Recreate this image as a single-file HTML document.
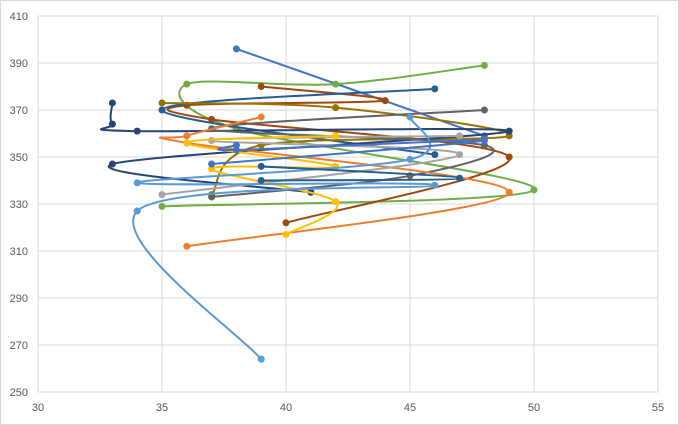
<!DOCTYPE html>
<html><head><meta charset="utf-8"><style>
body{margin:0;background:#fff;}
svg{display:block;font-family:"Liberation Sans",sans-serif;}
</style></head><body>
<svg id="c" width="679" height="425" viewBox="0 0 679 425">
<rect x="0.5" y="0.5" width="678" height="424" fill="#fff" stroke="#d9d9d9"/>
<g id="grid" stroke="#d9d9d9" stroke-width="1"></g>
<g id="lab" font-size="11" fill="#595959"></g>
<g id="ser" fill="none" stroke-width="2"></g>
</svg>
<script>
const X=x=>38+(x-30)*24.8, Y=y=>16+(410-y)*2.35;
const ns="http://www.w3.org/2000/svg";
function el(p,t,a,txt){const e=document.createElementNS(ns,t);for(const k in a)e.setAttribute(k,a[k]);if(txt!=null)e.textContent=txt;document.getElementById(p).appendChild(e);return e;}
for(let y=250;y<=410;y+=20){el("grid","line",{x1:38,x2:658,y1:Y(y),y2:Y(y)});el("lab","text",{x:28,y:Y(y)+4,"text-anchor":"end"},y);}
for(let x=30;x<=55;x+=5){el("grid","line",{x1:X(x),x2:X(x),y1:16,y2:392});el("lab","text",{x:X(x),y:411,"text-anchor":"middle"},x);}
const S=[
["#4472C4",[[38,396],[48,359]]],
["#70AD47",[[48,389],[42,381],[36,381],[38,362],[50,336],[35,329]]],
["#9E480E",[[39,380],[44,374],[36,372],[37,366],[49,350],[40,322]]],
["#255E91",[[46,379],[35,370],[46,351]]],
["#997300",[[35,373],[42,371],[49,359],[39,355],[37,334]]],
["#264478",[[33,373],[33,364],[34,361],[49,361],[33,347],[41,335]]],
["#636363",[[48,370],[37,362],[48,355],[45,342],[37,333]]],
["#ED7D31",[[39,367],[36,359],[36,356],[49,335],[36,312]]],
["#A5A5A5",[[47,359],[37,357],[47,351],[35,334]]],
["#FFC000",[[42,359],[36,356],[42,346],[37,345],[42,331],[40,317]]],
["#5B9BD5",[[45,367],[45,349],[34,339],[46,338],[34,327],[39,264]]],
["#4472C4",[[38,355],[38,353],[48,357],[37,347]]],
["#255E91",[[39,346],[47,341],[39,340]]]
];
for(const [c,pts] of S){
 const P=pts.map(p=>[X(p[0]),Y(p[1])]);
 let d="M"+P[0];
 for(let i=0;i<P.length-1;i++){
  const p0=P[i-1]||P[i],p1=P[i],p2=P[i+1],p3=P[i+2]||P[i+1],t=1/6;
  d+=` C${p1[0]+(p2[0]-p0[0])*t},${p1[1]+(p2[1]-p0[1])*t} ${p2[0]-(p3[0]-p1[0])*t},${p2[1]-(p3[1]-p1[1])*t} ${p2[0]},${p2[1]}`;
 }
 el("ser","path",{d,stroke:c});
 for(const p of P)el("ser","circle",{cx:p[0],cy:p[1],r:3.5,fill:c,stroke:"none"});
}
</script>
</body></html>
